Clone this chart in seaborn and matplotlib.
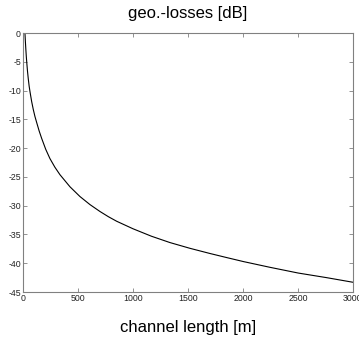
import matplotlib
matplotlib.use("Agg")
import matplotlib.pyplot as plt
import seaborn as sns
import pandas as pd

# values
channel_length = [18, 22, 26, 30, 34, 41, 48, 56, 64, 79, 94, 109, 124, 147, 170, 207, 245, 290,
                  336, 427, 518, 609, 700, 776, 852, 1000, 1168, 1336, 1518, 1700, 1850, 2003,
                  2245, 2503, 2761, 3000]
geo_losses = [0.0, -1.5, -2.8, -4.0, -5.0, -6.6, -7.9, -9.2, -10.2, -11.9, -13.3, -14.5, -15.5,
              -17.0, -18.3, -20.2, -21.8, -23.3, -24.6, -26.7, -28.4, -29.8, -31.0, -31.9,
              -32.7, -34.0, -35.3, -36.4, -37.4, -38.3, -39.0, -39.7, -40.7, -41.7, -42.5, -43.3]
xticks = [0, 500, 1000, 1500, 2000, 2500, 3000]
yticks = [0, -5, -10, -15, -20, -25, -30, -35, -40, -45]

df = pd.DataFrame({"channel length [m]": channel_length, "geo.-losses [dB]": geo_losses})

sns.set_style("ticks")
plt.rcParams["font.family"] = ["Liberation Sans", "DejaVu Sans"]

fig = plt.figure(figsize=(3.59, 3.38), dpi=100)
ax = fig.add_axes([0.064, 0.136, 0.919, 0.766])
sns.lineplot(data=df, x="channel length [m]", y="geo.-losses [dB]", ax=ax,
             color="black", linewidth=0.8, sort=False)
ax.set_xlim(0, 3000)
ax.set_ylim(-45, 0)
ax.set_xticks(xticks)
ax.set_yticks(yticks)
ax.set_xticklabels([str(t) for t in xticks])
ax.set_yticklabels([str(t) for t in yticks])
ax.tick_params(direction="in", length=3, width=0.6, colors="#808080",
               labelcolor="#222222", labelsize=6.3, pad=1.5,
               top=True, right=True)
for s in ax.spines.values():
    s.set_visible(True)
    s.set_color("#808080")
    s.set_linewidth(0.8)
ax.set_ylabel("")
ax.set_xlabel("channel length [m]", fontsize=12, labelpad=12, color="black")
ax.set_title("geo.-losses [dB]", fontsize=12, pad=11, color="black")
fig.savefig("out.png", dpi=100)
